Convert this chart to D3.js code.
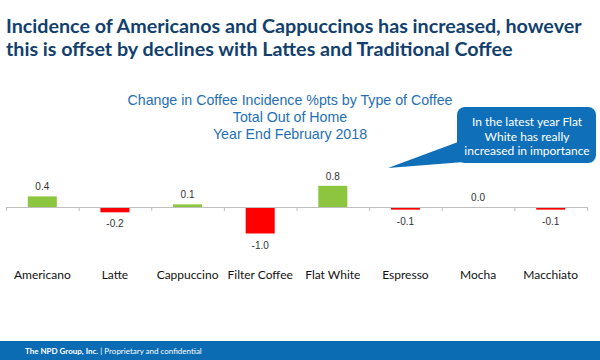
<!DOCTYPE html>
<html>
<head>
<meta charset="utf-8">
<script src="https://cdn.jsdelivr.net/npm/d3@7"></script>
<style>
  body { margin: 0; background: #fff; }
  svg { display: block; }
</style>
</head>
<body>
<div id="chart"></div>
<script>
  // data
  const categories = ['Americano', 'Latte', 'Cappuccino', 'Filter Coffee', 'Flat White', 'Espresso', 'Mocha', 'Macchiato'];
  const changes = [0.4, -0.2, 0.1, -1.0, 0.8, -0.1, 0.0, -0.1];
  const titleLines = ['Incidence of Americanos and Cappuccinos has increased, however', 'this is offset by declines with Lattes and Traditional Coffee'];
  const subtitleLines = ['Change in Coffee Incidence %pts by Type of Coffee', 'Total Out of Home', 'Year End February 2018'];
  const calloutLines = ['In the latest year Flat', 'White has really', 'increased in importance'];

  const W = 600, H = 360;
  const svg = d3.select('#chart').append('svg').attr('width', W).attr('height', H);

  // title
  svg.append('g').selectAll('text')
    .data(titleLines).enter().append('text')
    .attr('x', 6).attr('y', (d, i) => 33 + i * 23)
    .attr('font-family', 'Lato, sans-serif').attr('font-weight', 'bold')
    .attr('font-size', '19.7px').attr('fill', '#123f6d')
    .text(d => d);

  // subtitle
  svg.append('g').selectAll('text')
    .data(subtitleLines).enter().append('text')
    .attr('x', 290).attr('y', (d, i) => 105 + i * 17)
    .attr('text-anchor', 'middle')
    .attr('font-family', '"Liberation Sans", Arial, sans-serif')
    .attr('font-size', '14.2px').attr('fill', '#1f6fb5')
    .text(d => d);

  // scales
  const x = d3.scaleBand().domain(categories).range([6, 587]).paddingInner(0.6).paddingOuter(0.3);
  const y = d3.scaleLinear().domain([-1.5, 1]).range([207 + 1.5 * 26.5, 207 - 26.5]);
  const xEdge = d3.scaleLinear().domain([0, categories.length]).range([6, 587]);

  // bars
  svg.append('g').selectAll('rect')
    .data(changes).enter().append('rect')
    .attr('x', (d, i) => x(categories[i]))
    .attr('width', x.bandwidth())
    .attr('y', d => y(Math.max(0, d)))
    .attr('height', d => Math.abs(y(d) - y(0)))
    .attr('fill', d => d >= 0 ? '#8cc63e' : '#ff0000');

  // axis
  const axis = svg.append('g')
    .attr('transform', `translate(0,${y(0)})`)
    .call(d3.axisBottom(xEdge).ticks(categories.length).tickFormat('').tickSize(4).tickSizeOuter(0));
  axis.select('.domain').attr('stroke', '#bfbfbf');
  axis.selectAll('.tick line').attr('stroke', '#bfbfbf');

  // value labels
  svg.append('g').selectAll('text')
    .data(changes).enter().append('text')
    .attr('x', (d, i) => x(categories[i]) + x.bandwidth() / 2)
    .attr('y', d => d >= 0 ? y(d) - 6 : y(d) + 15)
    .attr('text-anchor', 'middle')
    .attr('font-family', '"Liberation Sans", Arial, sans-serif')
    .attr('font-size', '10px').attr('fill', '#333')
    .text(d => d.toFixed(1));

  // category labels
  svg.append('g').selectAll('text')
    .data(categories).enter().append('text')
    .attr('x', d => x(d) + x.bandwidth() / 2)
    .attr('y', 279)
    .attr('text-anchor', 'middle')
    .attr('font-family', 'Lato, sans-serif')
    .attr('font-size', '12px').attr('fill', '#111')
    .text(d => d);

  // callout
  const callout = svg.append('g');
  callout.append('path')
    .attr('d', 'M458,142 L388,168 L464,162 Z')
    .attr('fill', '#0f6fb8');
  callout.append('rect')
    .attr('x', 457).attr('y', 107).attr('width', 139).attr('height', 56)
    .attr('rx', 8).attr('fill', '#0f6fb8');
  callout.selectAll('text')
    .data(calloutLines).enter().append('text')
    .attr('x', 527).attr('y', (d, i) => 126 + i * 14.5)
    .attr('text-anchor', 'middle')
    .attr('font-family', 'Lato, sans-serif')
    .attr('font-size', '12px').attr('fill', '#fff')
    .text(d => d);

  // footer
  svg.append('rect').attr('x', 0).attr('y', 341).attr('width', W).attr('height', 19).attr('fill', '#0b6cb3');
  const foot = svg.append('text').attr('x', 25).attr('y', 354)
    .attr('font-family', 'Lato, sans-serif').attr('font-size', '8px').attr('fill', '#fff');
  foot.append('tspan').attr('font-weight', 'bold').text('The NPD Group, Inc.');
  foot.append('tspan').text('  |  Proprietary and confidential');
</script>
</body>
</html>
